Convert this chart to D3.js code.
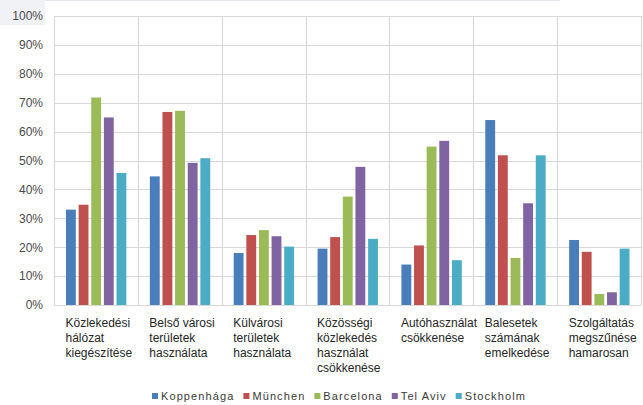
<!DOCTYPE html>
<html>
<head>
<meta charset="utf-8">
<script src="https://cdn.jsdelivr.net/npm/d3@7"></script>
<style>
  html, body { margin: 0; padding: 0; background: #ffffff; }
  svg { display: block; font-family: "Liberation Sans", Arial, sans-serif; }
</style>
</head>
<body>
<svg id="chart" width="643" height="405"></svg>
<script>
// Survey categories (multi-line labels)
const categories = [
  ["Közlekedési", "hálózat", "kiegészítése"],
  ["Belső városi", "területek", "használata"],
  ["Külvárosi", "területek", "használata"],
  ["Közösségi", "közlekedés", "használat", "csökkenése"],
  ["Autóhasználat", "csökkenése"],
  ["Balesetek", "számának", "emelkedése"],
  ["Szolgáltatás", "megszűnése", "hamarosan"]
];

const cities = ["Koppenhága", "München", "Barcelona", "Tel Aviv", "Stockholm"];

// Share of respondents (%) per category, one array per city
const koppenhaga = [33, 44.5, 18, 19.5, 14, 64, 22.5];
const munchen    = [34.7, 66.8, 24.2, 23.5, 20.6, 51.8, 18.4];
const barcelona  = [71.8, 67.2, 25.9, 37.5, 54.8, 16.3, 3.8];
const telAviv    = [64.9, 49.2, 23.8, 47.8, 56.8, 35.2, 4.4];
const stockholm  = [45.7, 50.8, 20.2, 22.9, 15.5, 51.8, 19.5];

const yTicks = [0, 10, 20, 30, 40, 50, 60, 70, 80, 90, 100];

const seriesValues = [koppenhaga, munchen, barcelona, telAviv, stockholm];
const colors = ["#4a7ebb", "#c0504d", "#9bbb59", "#8064a2", "#4bacc6"];

const svg = d3.select("#chart");
const margin = { top: 16, right: 2, bottom: 100, left: 54 };
const width = 643 - margin.left - margin.right;
const height = 405 - margin.top - margin.bottom;

// faint frame remnants along the top edge
svg.append("rect").attr("x", 0).attr("y", 0).attr("width", 45).attr("height", 25).attr("fill", "#f1f2f6");
svg.append("line").attr("x1", 45).attr("x2", 560).attr("y1", 0.5).attr("y2", 0.5)
  .attr("stroke", "#e6e7ec").attr("stroke-width", 1);

const g = svg.append("g").attr("transform", `translate(${margin.left},${margin.top})`);

const x0 = d3.scaleBand().domain(d3.range(categories.length)).range([0, width]).padding(0);
const groupPad = 12;
const x1 = d3.scaleBand().domain(d3.range(cities.length))
  .range([groupPad, x0.bandwidth() - groupPad + 0.5]).paddingInner(0.22).paddingOuter(0);
const y = d3.scaleLinear().domain([0, 100]).range([height, 0]);

// horizontal gridlines
g.append("g").selectAll("line").data(yTicks).join("line")
  .attr("x1", 0).attr("x2", width)
  .attr("y1", d => Math.round(y(d)) + 0.5).attr("y2", d => Math.round(y(d)) + 0.5)
  .attr("stroke", "#d9d9d9").attr("stroke-width", 1.2);

// vertical category separators
g.append("g").selectAll("line").data(d3.range(categories.length + 1)).join("line")
  .attr("x1", i => Math.round(i * x0.step()) + 0.5).attr("x2", i => Math.round(i * x0.step()) + 0.5)
  .attr("y1", 0).attr("y2", height)
  .attr("stroke", "#d9d9d9").attr("stroke-width", 1.2);

// y axis labels
const yAxis = d3.axisLeft(y).tickValues(yTicks).tickFormat(d => d + "%").tickSize(0).tickPadding(11);
const ya = g.append("g").call(yAxis);
ya.select(".domain").remove();
ya.selectAll("text").attr("font-size", 12).attr("fill", "#4a4a4a")
  .attr("font-family", "'Liberation Sans', Arial, sans-serif");

// bars
const groups = g.append("g").selectAll("g").data(categories).join("g")
  .attr("transform", (d, i) => `translate(${x0(i)},0)`);
groups.selectAll("rect").data((d, i) => seriesValues.map((s, k) => ({ k, v: s[i] }))).join("rect")
  .attr("x", d => x1(d.k))
  .attr("width", x1.bandwidth())
  .attr("y", d => y(d.v))
  .attr("height", d => y(0) - y(d.v))
  .attr("fill", d => colors[d.k]);

// category labels
const labels = g.append("g").selectAll("text").data(categories).join("text")
  .attr("x", (d, i) => x0(i) + groupPad - 0.5)
  .attr("y", height + 22)
  .attr("font-size", 12).attr("fill", "#262626");
labels.selectAll("tspan").data(d => d).join("tspan")
  .attr("x", function () { return this.parentNode.getAttribute("x"); })
  .attr("dy", (d, j) => j === 0 ? 0 : 15)
  .text(d => d);

// legend
const legend = svg.append("g").attr("transform", "translate(152,400)");
let lx = 0;
cities.forEach((c, k) => {
  const item = legend.append("g").attr("transform", `translate(${lx},0)`);
  item.append("rect").attr("x", 0).attr("y", -7).attr("width", 6).attr("height", 6).attr("fill", colors[k]);
  const t = item.append("text").attr("x", 9).attr("y", 0)
    .attr("font-size", 11).attr("letter-spacing", 1.1).attr("fill", "#3a3a3a").text(c);
  lx += 9 + t.node().getComputedTextLength() + 9;
});
</script>
</body>
</html>
